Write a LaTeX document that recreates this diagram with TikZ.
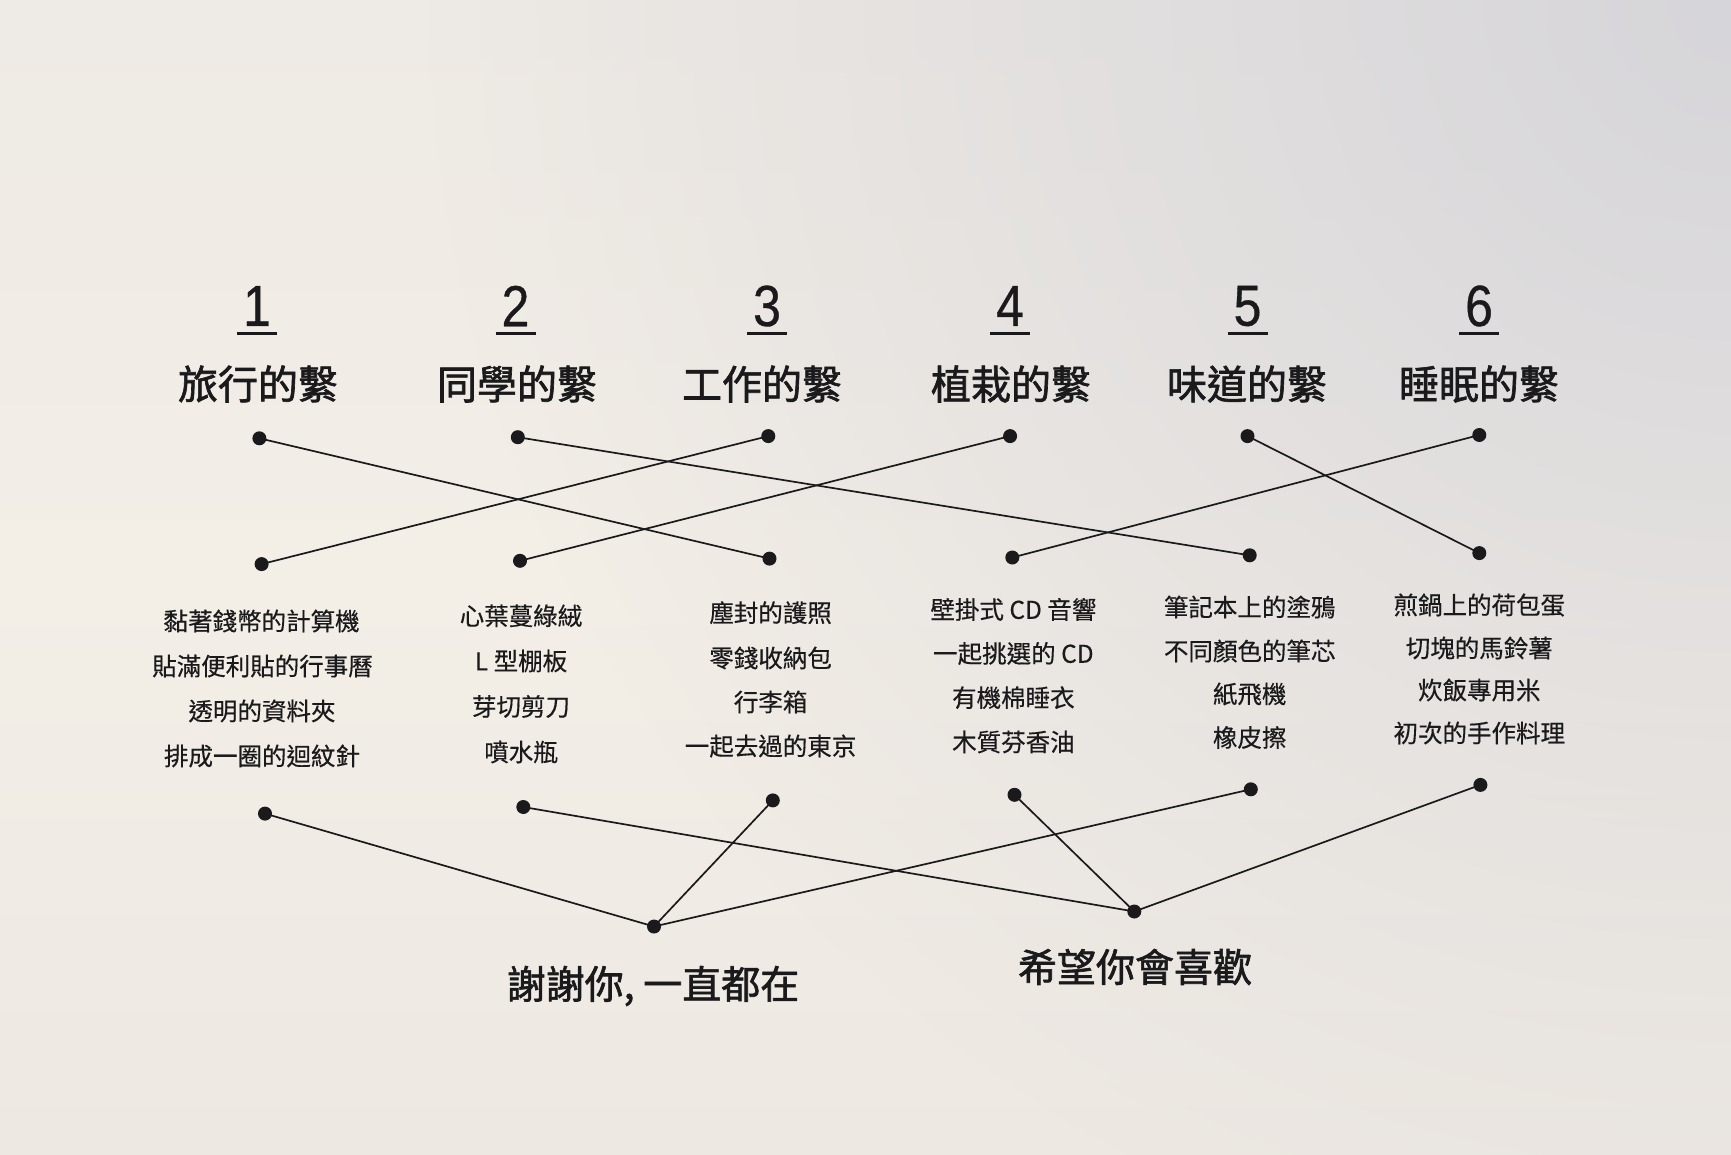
\documentclass[tikz,border=0pt]{standalone}
\usepackage{fontspec}
\usetikzlibrary{fadings}
\newfontfamily\cjk{Noto Sans CJK TC}
\newfontfamily\cjkmed[FakeBold=1.6]{Noto Sans CJK TC}
\newfontfamily\cjkitem[FakeBold=0.4]{Noto Sans CJK TC}
\newfontfamily\digitfont[FakeStretch=0.86, FakeBold=0.6]{Liberation Sans}
\definecolor{wallbase}{RGB}{243,238,230}
\definecolor{walltop}{RGB}{238,234,229}
\definecolor{wallbottom}{RGB}{237,232,226}
\definecolor{wallgrey}{RGB}{214,213,217}
\definecolor{ink}{RGB}{26,26,28}
\tikzfading[name=cornerfade, inner color=transparent!0, outer color=transparent!100]
\tikzset{
  dotnode/.style={circle, fill=ink, draw=none, minimum size=14pt, inner sep=0pt},
  link/.style={draw=ink, line width=1.7pt},
  numlabel/.style={inner sep=0pt, text=ink, font=\digitfont\fontsize{58pt}{60pt}\selectfont},
  titlelabel/.style={inner sep=0pt, text=ink, font=\cjkmed\fontsize{40pt}{44pt}\selectfont},
  itemlabel/.style={inner sep=0pt, text=ink, font=\cjkitem\fontsize{24.5pt}{28pt}\selectfont},
  endlabel/.style={inner sep=0pt, text=ink, font=\cjkmed\fontsize{39pt}{44pt}\selectfont},
  uline/.style={draw=ink, line width=3.5pt}
}
\begin{document}
\begin{tikzpicture}[x=1pt, y=-1pt]
\useasboundingbox (0,0) rectangle (1731,1154);
\begin{scope}
\clip (0,0) rectangle (1731,1154);
\shade[top color=walltop, bottom color=wallbottom, middle color=wallbase] (0,0) rectangle (1731,1154);
\fill[wallgrey, path fading=cornerfade, fit fading=true] (1731,0) circle (1300);
\end{scope}

% numbers
\foreach \n/\x in {1/257, 2/515.5, 3/767, 4/1010, 5/1247.5, 6/1479} {
  \node[numlabel] (num\n) at (\x,306) {\n};
  \coordinate (ul\n a) at (\x-20,333.5);
  \coordinate (ul\n b) at (\x+20,333.5);
  \draw[uline] (ul\n a) -- (ul\n b);
}

% titles
\node[titlelabel] (title1) at (258,384) {旅行的繫};
\node[titlelabel] (title2) at (517,384) {同學的繫};
\node[titlelabel] (title3) at (762,384) {工作的繫};
\node[titlelabel] (title4) at (1011,384) {植栽的繫};
\node[titlelabel] (title5) at (1247,384) {味道的繫};
\node[titlelabel] (title6) at (1479,384) {睡眠的繫};

% top dots
\node[dotnode] (t1) at (259.4,438.3) {};
\node[dotnode] (t2) at (517.8,437.2) {};
\node[dotnode] (t3) at (768.3,436.1) {};
\node[dotnode] (t4) at (1010.1,436.1) {};
\node[dotnode] (t5) at (1247.5,436.1) {};
\node[dotnode] (t6) at (1479.3,435) {};

% middle dots
\node[dotnode] (m1) at (261.6,564.1) {};
\node[dotnode] (m2) at (520,560.8) {};
\node[dotnode] (m3) at (769.5,558.6) {};
\node[dotnode] (m4) at (1012.3,557.5) {};
\node[dotnode] (m5) at (1249.7,555.3) {};
\node[dotnode] (m6) at (1479.3,553.1) {};

% items
\node[itemlabel] (i11) at (261.6,621) {黏著錢幣的計算機};
\node[itemlabel] (i12) at (262.5,666) {貼滿便利貼的行事曆};
\node[itemlabel] (i13) at (262,711) {透明的資料夾};
\node[itemlabel] (i14) at (262,756) {排成一圈的迴紋針};

\node[itemlabel] (i21) at (521,616) {心葉蔓綠絨};
\node[itemlabel] (i22) at (521,661) {L 型棚板};
\node[itemlabel] (i23) at (521,706.5) {芽切剪刀};
\node[itemlabel] (i24) at (521,752) {噴水瓶};

\node[itemlabel] (i31) at (770.6,612.7) {塵封的護照};
\node[itemlabel] (i32) at (770.6,658) {零錢收納包};
\node[itemlabel] (i33) at (770.6,702) {行李箱};
\node[itemlabel] (i34) at (770.6,746) {一起去過的東京};

\node[itemlabel] (i41) at (1013.4,609.4) {壁掛式 CD 音響};
\node[itemlabel] (i42) at (1013.4,653.5) {一起挑選的 CD};
\node[itemlabel] (i43) at (1013.4,697.7) {有機棉睡衣};
\node[itemlabel] (i44) at (1013.4,742) {木質芬香油};

\node[itemlabel] (i51) at (1249.7,607) {筆記本上的塗鴉};
\node[itemlabel] (i52) at (1249.7,651) {不同顏色的筆芯};
\node[itemlabel] (i53) at (1249.7,694) {紙飛機};
\node[itemlabel] (i54) at (1249.7,737.5) {橡皮擦};

\node[itemlabel] (i61) at (1479.3,605) {煎鍋上的荷包蛋};
\node[itemlabel] (i62) at (1479.3,648) {切塊的馬鈴薯};
\node[itemlabel] (i63) at (1479.3,690) {炊飯專用米};
\node[itemlabel] (i64) at (1479.3,733) {初次的手作料理};

% bottom dots
\node[dotnode] (b1) at (265,813.6) {};
\node[dotnode] (b2) at (523.3,807) {};
\node[dotnode] (b3) at (772.8,800.4) {};
\node[dotnode] (b4) at (1014.5,794.8) {};
\node[dotnode] (b5) at (1250.8,789.3) {};
\node[dotnode] (b6) at (1480.4,784.9) {};

% final dots
\node[dotnode] (fa) at (654,926.5) {};
\node[dotnode] (fb) at (1134.3,911.5) {};

% end labels
\node[endlabel] (enda) at (653,986) {謝謝你, 一直都在};
\node[endlabel] (endb) at (1135,967) {希望你會喜歡};

% connectors top -> middle
\draw[link] (t1.center) -- (m3.center);
\draw[link] (t2.center) -- (m5.center);
\draw[link] (t3.center) -- (m1.center);
\draw[link] (t4.center) -- (m2.center);
\draw[link] (t5.center) -- (m6.center);
\draw[link] (t6.center) -- (m4.center);

% connectors bottom -> final
\draw[link] (b1.center) -- (fa.center);
\draw[link] (b3.center) -- (fa.center);
\draw[link] (b5.center) -- (fa.center);
\draw[link] (b2.center) -- (fb.center);
\draw[link] (b4.center) -- (fb.center);
\draw[link] (b6.center) -- (fb.center);
\end{tikzpicture}
\end{document}
